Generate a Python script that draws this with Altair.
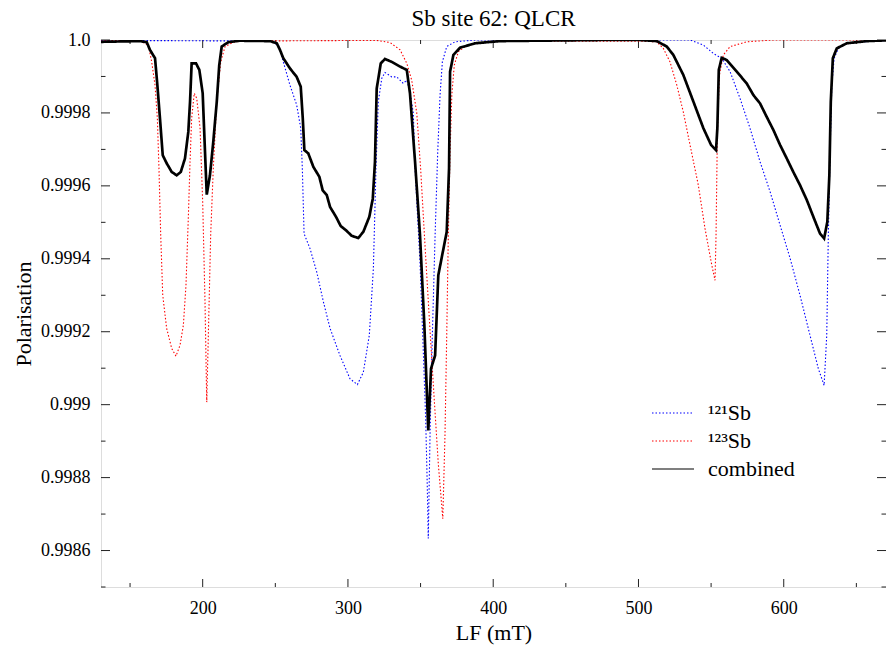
import json
import altair as alt
import pandas as pd

# ---------------- data ----------------
SERIES = ["¹²¹Sb", "¹²³Sb", "combined"]

BLUE_LF = [130, 246.4, 252.1, 255.5, 260.1, 264.7, 267.5, 268.6, 269.8, 273.9,
           278.5, 283.1, 287.7, 294.5, 301.4, 306.5, 310.6, 314.7, 317.5, 319.3,
           320.9, 323.3, 325.5, 330.1, 333.6, 338.1, 340.5, 342.7, 345.0, 346.2,
           349.6, 351.9, 353.5, 354.6, 355.3, 356.5, 358.1, 360.0, 361.8, 363.4,
           365.0, 368.0, 373.7, 387.5, 501.1, 535.5, 544.7, 551.6, 557.3, 563.1,
           569.9, 576.8, 583.7, 590.6, 597.5, 604.4, 611.2, 618.1, 623.8, 627.8,
           629.6, 630.7, 631.9, 633.1, 634.7, 637.6, 643.4, 661.7, 677]
BLUE_POL = [0.999999, 0.999997, 0.999986, 0.999940, 0.999876, 0.999822, 0.999758, 0.999648, 0.999469, 0.999428,
            0.999364, 0.999282, 0.999209, 0.999135, 0.999071, 0.999055, 0.999089, 0.999190, 0.999373, 0.999648,
            0.999831, 0.999895, 0.999911, 0.999899, 0.999899, 0.999881, 0.999890, 0.999858, 0.999799, 0.999648,
            0.999391, 0.999144, 0.998962, 0.998778, 0.998633, 0.998916, 0.999190, 0.999465, 0.999693, 0.999849,
            0.999940, 0.999982, 0.999995, 1.0, 1.0, 1.0, 0.999986, 0.999963, 0.999950, 0.999913,
            0.999840, 0.999758, 0.999666, 0.999584, 0.999492, 0.999401, 0.999300, 0.999190, 0.999099, 0.999053,
            0.999190, 0.999465, 0.999693, 0.999876, 0.999950, 0.999977, 0.999991, 0.999997, 1.0]

RED_LF = [130, 156.9, 162.6, 164.9, 167.2, 168.8, 169.9, 171.1, 172.5, 175.2,
          178.7, 181.6, 184.4, 186.7, 188.5, 190.1, 191.3, 192.4, 194.2, 195.9,
          198.2, 200.0, 201.6, 202.8, 203.9, 205.5, 207.3, 209.7, 212.4, 215.4,
          221.1, 225.7, 319.8, 329.0, 335.9, 340.5, 343.9, 347.4, 350.1, 353.1,
          356.5, 359.3, 362.2, 365.3, 366.8, 368.0, 369.1, 370.3, 371.5, 373.2,
          376.0, 380.6, 387.5, 404.7, 501.1, 512.6, 517.1, 521.7, 526.4, 530.9,
          535.5, 541.2, 545.8, 550.5, 552.7, 553.4, 554.3, 555.7, 558.4, 563.1,
          574.5, 592.9, 677]
RED_POL = [1.0, 0.999997, 0.999986, 0.999940, 0.999876, 0.999785, 0.999648, 0.999465, 0.999300, 0.999209,
           0.999154, 0.999133, 0.999163, 0.999218, 0.999327, 0.999511, 0.999666, 0.999785, 0.999854, 0.999840,
           0.999758, 0.999556, 0.999282, 0.999007, 0.999190, 0.999465, 0.999648, 0.999831, 0.999940, 0.999982,
           0.999994, 0.999997, 0.999999, 0.999993, 0.999973, 0.999936, 0.999890, 0.999799, 0.999643, 0.999433,
           0.999204, 0.999021, 0.998838, 0.998687, 0.998916, 0.999190, 0.999465, 0.999693, 0.999849, 0.999931,
           0.999968, 0.999982, 0.999991, 0.999997, 0.999997, 0.999995, 0.999977, 0.999940, 0.999876, 0.999802,
           0.999712, 0.999602, 0.999483, 0.999382, 0.999341, 0.999465, 0.999739, 0.999904, 0.999959, 0.999982,
           0.999995, 1.0, 1.0]

BLACK_LF = [130, 156.9, 161.5, 163.7, 167.2, 168.8, 170.6, 172.5, 175.2, 178.7,
            182.1, 184.9, 187.8, 190.1, 191.3, 192.4, 195.4, 197.7, 200.0, 201.6,
            202.8, 205.0, 207.3, 209.7, 211.4, 213.1, 217.6, 225.7, 246.4, 251.0,
            253.2, 255.5, 260.1, 264.7, 267.5, 268.9, 270.0, 272.7, 276.2, 280.3,
            282.6, 285.4, 287.7, 291.8, 295.0, 298.7, 302.6, 307.1, 310.6, 314.7,
            317.1, 318.6, 319.8, 322.6, 325.5, 330.1, 335.9, 340.5, 342.7, 346.2,
            349.6, 352.6, 355.3, 357.2, 360.0, 362.2, 368.0, 369.6, 370.3, 372.6,
            377.2, 387.5, 404.7, 473.6, 501.1, 512.6, 519.5, 524.0, 530.9, 537.8,
            544.7, 550.0, 553.4, 554.3, 555.3, 557.3, 560.8, 567.7, 574.5, 579.1,
            583.7, 588.3, 592.9, 597.5, 602.1, 606.6, 611.2, 615.9, 620.4, 625.0,
            627.8, 630.0, 631.4, 632.4, 633.8, 636.5, 643.4, 657.2, 677]
BLACK_POL = [0.999995, 0.999997, 0.999994, 0.999973, 0.999950, 0.999876, 0.999785, 0.999684, 0.999662, 0.999638,
             0.999629, 0.999638, 0.999675, 0.999748, 0.999831, 0.999936, 0.999936, 0.999918, 0.999854, 0.999693,
             0.999576, 0.999629, 0.999721, 0.999831, 0.999931, 0.999982, 0.999994, 0.999998, 0.999997, 0.999991,
             0.999973, 0.999950, 0.999922, 0.999899, 0.999872, 0.999785, 0.999698, 0.999689, 0.999652, 0.999625,
             0.999588, 0.999575, 0.999542, 0.999515, 0.999490, 0.999478, 0.999463, 0.999457, 0.999474, 0.999515,
             0.999565, 0.999666, 0.999867, 0.999936, 0.999948, 0.999940, 0.999927, 0.999918, 0.999854, 0.999666,
             0.999465, 0.999218, 0.998929, 0.999099, 0.999135, 0.999355, 0.999474, 0.999648, 0.999913, 0.999959,
             0.999979, 0.999991, 0.999997, 1.0, 1.0, 0.999997, 0.999982, 0.999959, 0.999904, 0.999831,
             0.999758, 0.999712, 0.999698, 0.999758, 0.999918, 0.999951, 0.999945, 0.999913, 0.999881, 0.999849,
             0.999826, 0.999789, 0.999753, 0.999712, 0.999675, 0.999638, 0.999602, 0.999561, 0.999515, 0.999469,
             0.999456, 0.999501, 0.999629, 0.999831, 0.999950, 0.999977, 0.999991, 0.999997, 1.0]

X_MAJOR = [200, 300, 400, 500, 600]
X_MINOR = [150, 250, 350, 450, 550, 650]
Y_MAJOR = [0.9986, 0.9988, 0.999, 0.9992, 0.9994, 0.9996, 0.9998, 1.0]
Y_TICK_LABELS = ["0.9986", "0.9988", "0.999", "0.9992", "0.9994", "0.9996", "0.9998", "1.0"]
Y_MINOR = [0.9985, 0.9987, 0.9989, 0.9991, 0.9993, 0.9995, 0.9997, 0.9999]
TITLE = "Sb site 62: QLCR"

# ---------------- build ----------------
rows = []
for name, xs, ys in [(SERIES[0], BLUE_LF, BLUE_POL), (SERIES[1], RED_LF, RED_POL),
                     (SERIES[2], BLACK_LF, BLACK_POL)]:
    rows += [{"series": name, "lf": x, "pol": y} for x, y in zip(xs, ys)]
df = pd.DataFrame(rows)

W, H = 785, 547
FONT = "Liberation Serif"
FRAME = "#222222"
WIDTHS = [1.1, 1.1, 2.7]

xscale = alt.Scale(domain=[130, 670.4], nice=False, zero=False)
yscale = alt.Scale(domain=[0.9985, 1.0], nice=False, zero=False)

xaxis = alt.Axis(title="LF (mT)", values=X_MAJOR, ticks=False, domain=False, grid=False,
                 labelFont=FONT, labelFontSize=18, labelColor="black", labelPadding=12,
                 titleFont=FONT, titleFontSize=22, titleFontWeight="normal", titleColor="black",
                 titleY=45, titleBaseline="middle")
label_expr = f"{json.dumps(Y_TICK_LABELS)}[indexof({json.dumps(Y_MAJOR)}, datum.value)]"
yaxis = alt.Axis(title="Polarisation", values=Y_MAJOR, ticks=False, domain=False, grid=False,
                 labelExpr=label_expr,
                 labelFont=FONT, labelFontSize=18, labelColor="black", labelPadding=11,
                 titleFont=FONT, titleFontSize=22, titleFontWeight="normal", titleColor="black",
                 titleX=-78, titleY=H / 2, titleAngle=270, titleAlign="center", titleBaseline="middle")

legend = alt.Legend(title=None, orient="none", legendX=561, legendY=362,
                    symbolType="M-3,0H3", symbolSize=196, labelFont=FONT, labelFontSize=22,
                    labelColor="black", labelOffset=24, rowPadding=6, padding=0)

color = alt.Color("series:N", scale=alt.Scale(domain=SERIES, range=["#0000ff", "#ff0000", "#000000"]),
                  legend=legend)
dash = alt.StrokeDash("series:N", scale=alt.Scale(domain=SERIES, range=[[1.5, 2], [1.5, 2], [1, 0]]),
                      legend=legend)
swidth = alt.StrokeWidth("series:N", scale=alt.Scale(domain=SERIES, range=WIDTHS), legend=legend)

line_layers = [
    alt.Chart(df).mark_line(interpolate="linear", strokeJoin="miter", clip=True, strokeWidth=w)
    .transform_filter(alt.datum.series == s).encode(
        x=alt.X("lf:Q", scale=xscale, axis=xaxis),
        y=alt.Y("pol:Q", scale=yscale, axis=yaxis),
        color=color, strokeDash=dash, strokeWidth=swidth,
    )
    for s, w in zip(SERIES, WIDTHS)
]


def xticks(values, length, at_bottom):
    d = pd.DataFrame({"v": values})
    y0, y1 = (H, H - length) if at_bottom else (0, length)
    return alt.Chart(d).mark_rule(color=FRAME, strokeWidth=1).encode(
        x=alt.X("v:Q", scale=xscale, axis=xaxis), y=alt.value(y0), y2=alt.value(y1))


def yticks(values, length, at_left):
    d = pd.DataFrame({"v": values})
    x0, x1 = (0, length) if at_left else (W, W - length)
    return alt.Chart(d).mark_rule(color=FRAME, strokeWidth=1).encode(
        y=alt.Y("v:Q", scale=yscale, axis=yaxis), x=alt.value(x0), x2=alt.value(x1))


tick_layers = [
    xticks(X_MAJOR, 8, True), xticks(X_MINOR, 4, True),
    xticks(X_MAJOR, 8, False), xticks(X_MINOR, 4, False),
    yticks(Y_MAJOR, 9, True), yticks(Y_MINOR, 4.5, True),
    yticks(Y_MAJOR, 9, False), yticks(Y_MINOR, 4.5, False),
]

chart = alt.layer(*tick_layers, *line_layers).properties(
    width=W, height=H,
    title=alt.TitleParams(text=TITLE, font=FONT, fontSize=23, fontWeight="normal",
                          color="black", anchor="middle", frame="group", offset=0,
                          baseline="alphabetic", dy=18),
    autosize=alt.AutoSizeParams(type="none"),
    padding={"left": 93, "top": 32, "right": 0, "bottom": 60},
).configure_view(stroke=FRAME, strokeWidth=1.2).configure(background="white")

chart.save("out.html", embed_options={"renderer": "svg", "actions": False})
